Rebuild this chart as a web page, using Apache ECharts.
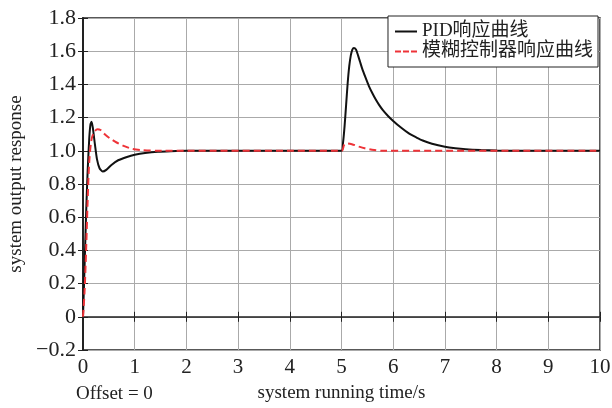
<!DOCTYPE html>
<html>
<head>
<meta charset="utf-8">
<script src="https://cdn.jsdelivr.net/npm/echarts@6/dist/echarts.min.js"></script>
<style>
  html, body { margin: 0; padding: 0; background: #fff; }
  #chart { width: 612px; height: 408px; }
</style>
</head>
<body>
<div id="chart"></div>
<script>
/* ------ data ------ */
var xTicks = [0, 1, 2, 3, 4, 5, 6, 7, 8, 9, 10];
var yTicks = ['−0.2', '0', '0.2', '0.4', '0.6', '0.8', '1.0', '1.2', '1.4', '1.6', '1.8'];
var seriesNames = ['PID响应曲线', '模糊控制器响应曲线'];

var pidCurve = [
    [0, 0], [0.03, 0.3], [0.06, 0.62], [0.09, 0.88], [0.12, 1.07], [0.145, 1.16], [0.165, 1.175],
    [0.19, 1.14], [0.23, 1.04], [0.27, 0.95], [0.32, 0.895], [0.38, 0.875], [0.45, 0.885],
    [0.55, 0.915], [0.68, 0.943], [0.85, 0.963], [1.0, 0.976], [1.2, 0.987], [1.45, 0.995],
    [1.7, 0.998], [2.0, 1.0], [5.0, 1.0], [5.03, 1.05], [5.06, 1.15], [5.09, 1.28], [5.12, 1.41],
    [5.15, 1.51], [5.18, 1.575], [5.21, 1.61], [5.24, 1.62], [5.28, 1.61], [5.32, 1.575],
    [5.36, 1.535], [5.4, 1.495], [5.46, 1.445], [5.53, 1.39], [5.6, 1.345], [5.66, 1.31],
    [5.73, 1.275], [5.8, 1.245], [5.9, 1.21], [6.0, 1.18], [6.15, 1.14], [6.31, 1.103],
    [6.45, 1.08], [6.57, 1.062], [6.75, 1.043], [7.0, 1.025], [7.2, 1.016], [7.4, 1.01],
    [7.7, 1.005], [8.0, 1.002], [8.5, 1.0], [10, 1.0]
];

var fuzzyCurve = [
    [0, 0], [0.03, 0.15], [0.06, 0.4], [0.09, 0.7], [0.12, 0.93], [0.16, 1.06], [0.21, 1.11],
    [0.28, 1.13], [0.34, 1.125], [0.42, 1.1], [0.52, 1.075], [0.65, 1.05], [0.8, 1.028],
    [0.95, 1.012], [1.15, 1.004], [1.5, 1.0], [5.0, 1.0], [5.05, 1.035], [5.1, 1.045],
    [5.2, 1.04], [5.34, 1.025], [5.45, 1.015], [5.59, 1.006], [5.8, 1.0], [10, 1.0]
];

/* ------ chart ------ */
var chart = echarts.init(document.getElementById('chart'));

var serif = 'Liberation Serif';
var solidIcon = 'path://M0 0H22V2H0Z';
var dashIcon = 'path://M0 0H6V2H0Z M8 0H14V2H8Z M16 0H22V2H16Z';

var option = {
    animation: false,
    grid: {
        left: 83,
        right: 12,
        top: 18,
        bottom: 58,
        outerBoundsMode: 'none',
        show: true,
        borderColor: '#222',
        borderWidth: 1.5
    },
    legend: {
        orient: 'vertical',
        right: 14,
        top: 16,
        itemWidth: 22,
        itemHeight: 2,
        itemGap: 1,
        padding: [6, 5, 6, 7],
        backgroundColor: '#fff',
        borderColor: '#222',
        borderWidth: 1,
        borderRadius: 0,
        textStyle: {
            fontFamily: serif + ', "Noto Sans CJK SC"',
            fontSize: 19,
            color: '#222'
        },
        data: [
            { name: seriesNames[0], icon: solidIcon },
            { name: seriesNames[1], icon: dashIcon }
        ]
    },
    xAxis: [{
        type: 'value',
        min: 0,
        max: 10,
        interval: 1,
        name: 'system running time/s',
        nameLocation: 'middle',
        nameGap: 34,
        nameTextStyle: { fontFamily: serif, fontSize: 19, color: '#222' },
        axisLine: { lineStyle: { color: '#222', width: 1.5 } },
        axisTick: { inside: true, length: 5, lineStyle: { color: '#222' } },
        axisLabel: { fontFamily: serif, fontSize: 21, color: '#222', margin: 7 },
        splitLine: { show: true, lineStyle: { color: '#aaa', width: 1 } }
    }, {
        type: 'value',
        position: 'top',
        min: 0,
        max: 10,
        interval: 1,
        axisLine: { show: false },
        axisTick: { inside: true, length: 5, lineStyle: { color: '#222' } },
        axisLabel: { show: false },
        splitLine: { show: false }
    }],
    yAxis: [{
        type: 'value',
        min: -0.2,
        max: 1.8,
        interval: 0.2,
        name: 'system output response',
        nameLocation: 'middle',
        nameGap: 55,
        nameTextStyle: { fontFamily: serif, fontSize: 19, color: '#222' },
        axisLine: { show: true, lineStyle: { color: '#222', width: 2 } },
        axisTick: { show: true, inside: true, length: 5, lineStyle: { color: '#222' } },
        axisLabel: {
            fontFamily: serif, fontSize: 22, color: '#222', margin: 7,
            formatter: function (v) {
                return yTicks[Math.round((v + 0.2) / 0.2)];
            }
        },
        splitLine: { show: true, lineStyle: { color: '#aaa', width: 1 } }
    }, {
        type: 'value',
        position: 'right',
        min: -0.2,
        max: 1.8,
        interval: 0.2,
        axisLine: { show: false },
        axisTick: { show: true, inside: true, length: 5, lineStyle: { color: '#222' } },
        axisLabel: { show: false },
        splitLine: { show: false }
    }],
    graphic: [{
        type: 'text',
        left: 76,
        top: 385,
        style: { text: 'Offset = 0', font: '19px ' + serif, fill: '#222' }
    }],
    series: [{
        name: seriesNames[0],
        type: 'line',
        data: pidCurve,
        smooth: 0.2,
        symbol: 'none',
        lineStyle: { color: '#111', width: 2 },
        itemStyle: { color: '#111' },
        z: 3
    }, {
        name: seriesNames[1],
        type: 'line',
        data: fuzzyCurve,
        smooth: 0.3,
        symbol: 'none',
        lineStyle: { color: '#ee3338', width: 2, type: [7, 4] },
        itemStyle: { color: '#ee3338' },
        z: 4
    }]
};

chart.setOption(option);
</script>
</body>
</html>
